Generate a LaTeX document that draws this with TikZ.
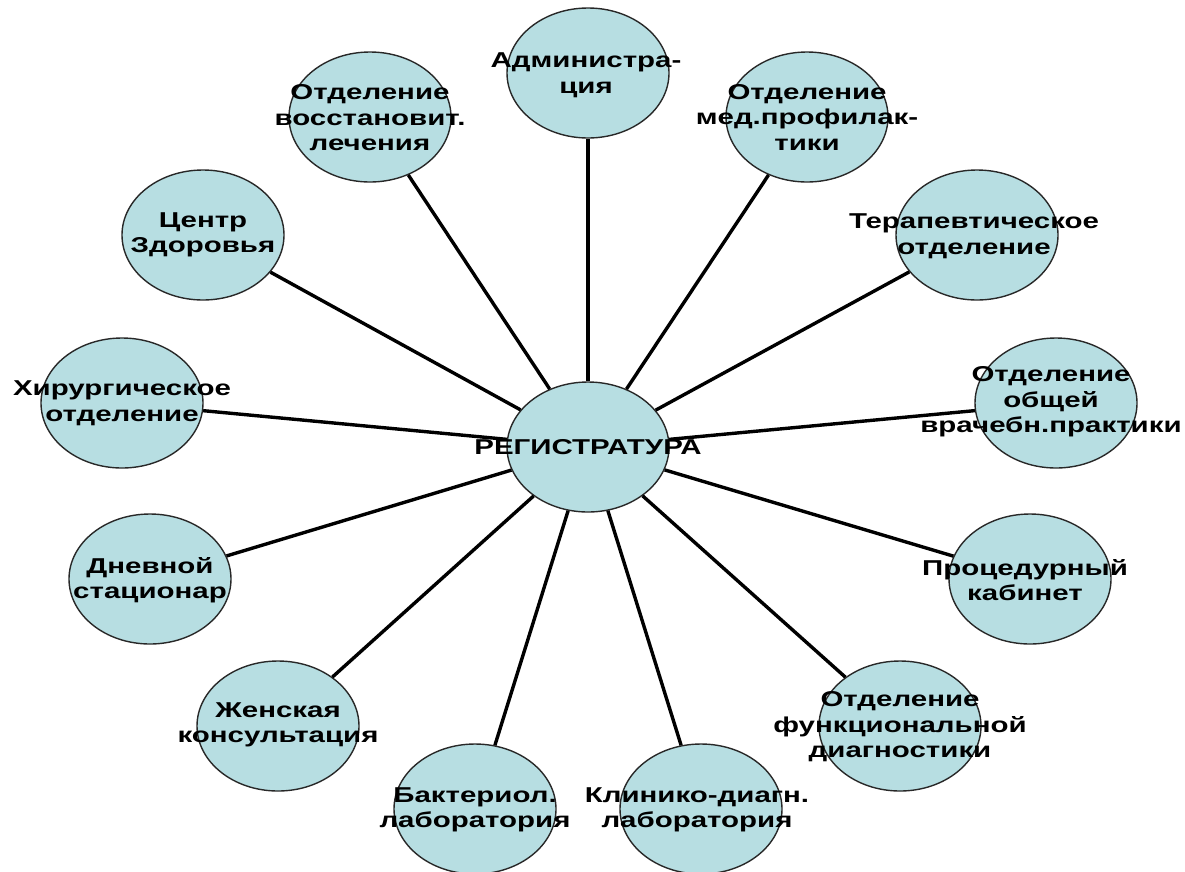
\documentclass[tikz,border=0pt]{standalone}
\usepackage{fontspec}
\newfontfamily\lab{Liberation Sans}[FakeStretch=1.37]
\usetikzlibrary{shapes.geometric}
\definecolor{unitfill}{RGB}{183,222,226}
\definecolor{unitedge}{RGB}{40,40,40}
\begin{document}
\begin{tikzpicture}[x=1pt,y=-1pt,
  unit/.style={ellipse, draw=unitedge, line width=1.4pt, fill=unitfill,
    minimum width=162pt, minimum height=130pt, inner sep=0pt},
  link/.style={line width=3.4pt, draw=black},
  caption/.style={font=\lab\bfseries\fontsize{21.5}{25.5}\selectfont,
    align=center, inner sep=0pt, text=black}]
\useasboundingbox (0,0) rectangle (1185,871);
\clip (0,0) rectangle (1185,871);

% departments around the registry
\node[unit] (reg) at (588,447) {};
\node[unit] (adm) at (588,73) {};
\node[unit] (vos) at (370,117) {};
\node[unit] (zdr) at (203,235) {};
\node[unit] (hir) at (122,403) {};
\node[unit] (dne) at (150,579) {};
\node[unit] (zhe) at (278,726) {};
\node[unit] (bak) at (475,809) {};
\node[unit] (kli) at (701,809) {};
\node[unit] (fun) at (900,726) {};
\node[unit] (pro) at (1030,579) {};
\node[unit] (obs) at (1056,403) {};
\node[unit] (ter) at (977,235) {};
\node[unit] (mpr) at (807,117) {};

% spokes
\foreach \n in {adm,vos,zdr,hir,dne,zhe,bak,kli,fun,pro,obs,ter,mpr}
  \draw[link] (reg) -- (\n);

% labels
\node[caption] (treg) at (588,447) {РЕГИСТРАТУРА};
\node[caption] (tadm) at (586,75) {Администра-\\ция};
\node[caption] (tvos) at (370,118) {Отделение\\восстановит.\\лечения};
\node[caption] (tzdr) at (203,235) {Центр\\Здоровья};
\node[caption] (thir) at (122,403) {Хирургическое\\отделение};
\node[caption] (tdne) at (150,580) {Дневной\\стационар};
\node[caption] (tzhe) at (278,725) {Женская\\консультация};
\node[caption] (tbak) at (475,810) {Бактериол.\\лаборатория};
\node[caption] (tkli) at (697,810) {Клинико-диагн.\\лаборатория};
\node[caption] (tfun) at (900,727) {Отделение\\функциональной\\диагностики};
\node[caption] (tpro) at (1025,580) {Процедурный\\кабинет};
\node[caption] (tobs) at (1051,402) {Отделение\\общей\\врачебн.практики};
\node[caption] (tter) at (974,236) {Терапевтическое\\отделение};
\node[caption] (tmpr) at (807,117) {Отделение\\мед.профилак-\\тики};
\end{tikzpicture}
\end{document}
